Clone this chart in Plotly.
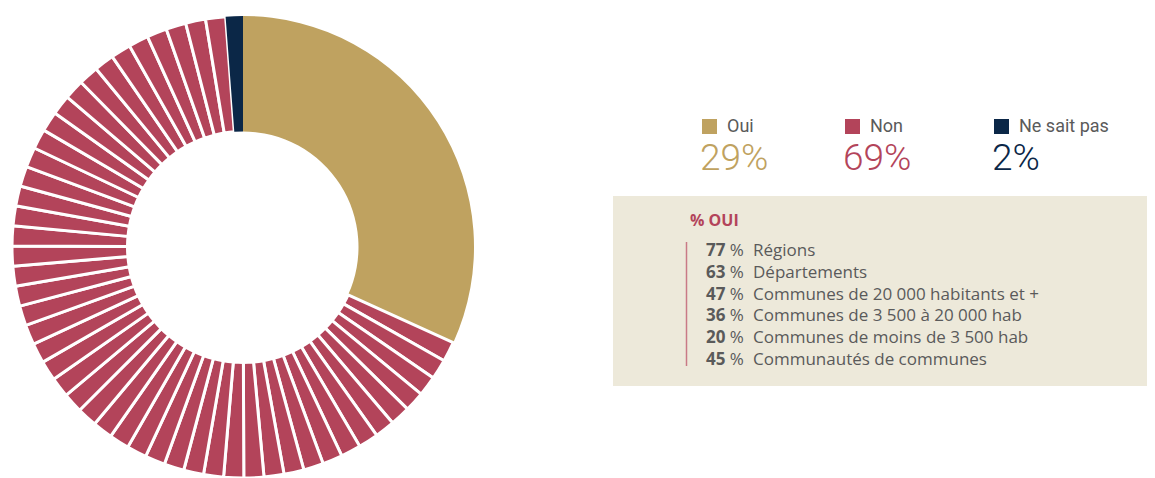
import plotly.graph_objects as go

# page body has an 8px margin; figure sized to fill the rest of the 1155x478 window
OFF = 8
W, H = 1155 - OFF, 478 - OFF

# ---- data ----
categories = ["Oui", "Non", "Ne sait pas"]
percentages = [29, 69, 2]
cat_colors = ["#BFA260", "#B3445A", "#0B2747"]

# donut arc shares as drawn in the picture
arc_oui = 31.8
arc_non = 67.0
arc_nsp = 1.2
n_stripes = 48

sub_labels = ["Régions", "Départements", "Communes de 20 000 habitants et +",
              "Communes de 3 500 à 20 000 hab", "Communes de moins de 3 500 hab",
              "Communautés de communes"]
sub_values = [77, 63, 47, 36, 20, 45]

# ---- helpers (screen pixel -> paper) ----
def px(x):
    return (x - OFF) / W

def py(y):
    return 1 - (y - OFF) / H

stripe_vals = [arc_non / n_stripes] * n_stripes
values = [arc_oui] + stripe_vals + [arc_nsp]
colors = [cat_colors[0]] + [cat_colors[1]] * n_stripes + [cat_colors[2]]
lw = [0] + [3] * n_stripes + [0]

CX, R = 243, 231
fig = go.Figure()
fig.add_trace(go.Pie(
    values=values, sort=False, direction="clockwise", rotation=0,
    hole=0.5, textinfo="none", hoverinfo="skip", showlegend=False,
    marker=dict(colors=colors, line=dict(color="white", width=lw)),
    domain=dict(x=[px(CX - R), px(CX + R)], y=[0, 2 * R / H]),
))

shapes = []
annotations = []
FONT = "Open Sans, Noto Sans, sans-serif"
GRAY = "#5A5A5A"

# legend block
leg_x = [702, 845, 994]
for i, (cat, pct) in enumerate(zip(categories, percentages)):
    x0 = leg_x[i]
    shapes.append(dict(type="rect", xref="paper", yref="paper",
                       x0=px(x0), x1=px(x0 + 15), y0=py(134), y1=py(119),
                       fillcolor=cat_colors[i], line=dict(width=0)))
    annotations.append(dict(x=px(x0 + 24), y=py(125.8), xref="paper", yref="paper",
                            text=cat, showarrow=False, xanchor="left", yanchor="middle",
                            borderpad=0,
                            font=dict(family="Roboto", size=18, color=GRAY)))
    annotations.append(dict(x=px(x0 - 3), y=py(157.6), xref="paper", yref="paper",
                            text=f"{pct}%", showarrow=False, xanchor="left", yanchor="middle",
                            borderpad=0,
                            font=dict(family="Roboto", size=37, color=cat_colors[i], weight=300)))

# beige box
shapes.append(dict(type="rect", xref="paper", yref="paper",
                   x0=px(613), x1=1, y0=py(386), y1=py(196),
                   fillcolor="#EDE9DA", line=dict(width=0), layer="below"))
# red vertical line
shapes.append(dict(type="line", xref="paper", yref="paper",
                   x0=px(686.5), x1=px(686.5), y0=py(242), y1=py(366),
                   line=dict(color="#C97A86", width=1.5)))

annotations.append(dict(x=px(688), y=py(220), xref="paper", yref="paper",
                        text="<b>% OUI</b>", showarrow=False, xanchor="left", yanchor="middle",
                        font=dict(family=FONT, size=16, color="#B3445A")))

row_y0 = 250
row_dy = 21.6
for i, (lab, val) in enumerate(zip(sub_labels, sub_values)):
    y = row_y0 + i * row_dy
    annotations.append(dict(x=px(745), y=py(y), xref="paper", yref="paper",
                            text=f"<b>{val}</b> %", showarrow=False, xanchor="right", yanchor="middle",
                            borderpad=0,
                            font=dict(family=FONT, size=17, color=GRAY)))
    annotations.append(dict(x=px(752), y=py(y), xref="paper", yref="paper",
                            text=lab, showarrow=False, xanchor="left", yanchor="middle",
                            borderpad=0,
                            font=dict(family=FONT, size=17, color=GRAY)))

fig.update_layout(
    width=W, height=H, margin=dict(l=0, r=0, t=0, b=0),
    paper_bgcolor="white", plot_bgcolor="white",
    shapes=shapes, annotations=annotations,
)

fig.write_html("out.html")
